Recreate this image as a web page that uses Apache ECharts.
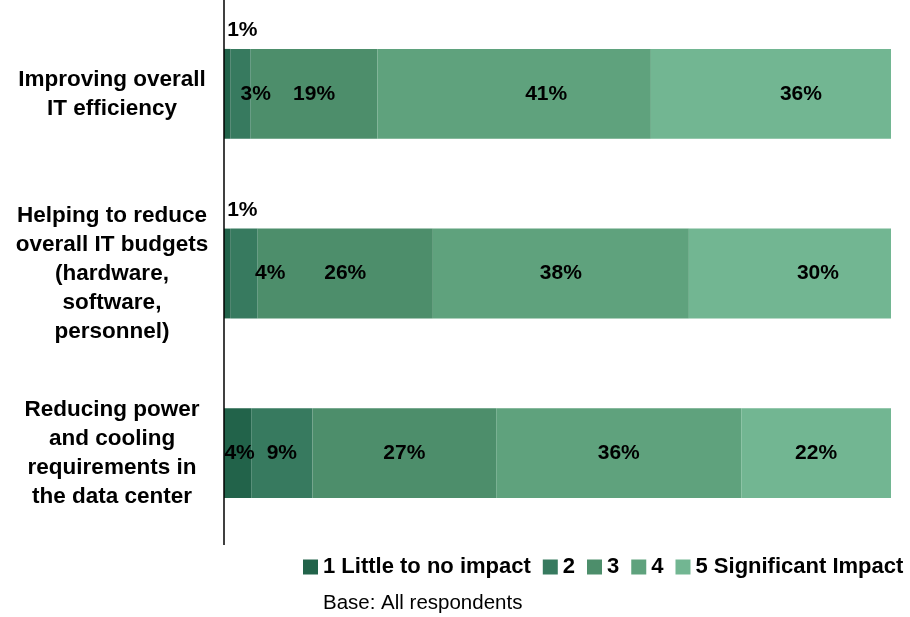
<!DOCTYPE html>
<html>
<head>
<meta charset="utf-8">
<script src="https://cdn.jsdelivr.net/npm/echarts@6/dist/echarts.min.js"></script>
<style>html,body{margin:0;padding:0;background:#fff}#c{width:910px;height:617px}</style>
</head>
<body>
<div id="c"></div>
<script>
var categories = [
  "Improving overall\nIT efficiency",
  "Helping to reduce\noverall IT budgets\n(hardware,\nsoftware,\npersonnel)",
  "Reducing power\nand cooling\nrequirements in\nthe data center"
];
var seriesNames = ["1 Little to no impact", "2", "3", "4", "5 Significant Impact"];
var impact1 = [1, 1, 4];
var impact2 = [3, 4, 9];
var impact3 = [19, 26, 27];
var impact4 = [41, 38, 36];
var impact5 = [36, 30, 22];
var footnote = "Base: All respondents";

var colors = ["#22634a", "#377a5f", "#4d8e6b", "#5fa27d", "#72b692"];
var allSeries = [impact1, impact2, impact3, impact4, impact5];
var totals = categories.map(function (c, i) {
  return allSeries.reduce(function (s, arr) { return s + arr[i]; }, 0);
});
// label horizontal nudges (style only), keyed "category-series"
var labelDx = { "0-1": 15, "0-3": 32, "0-4": 30, "1-1": 26, "1-4": 28, "2-0": 2 };
var FONT = "Liberation Sans, Arial, sans-serif";

var series = allSeries.map(function (arr, si) {
  return {
    name: seriesNames[si],
    type: "bar",
    stack: "total",
    barWidth: "50%",
    itemStyle: { color: colors[si] },
    data: arr.map(function (v, ci) {
      var item = { value: v / totals[ci] * 100, raw: v };
      var lab = {
        show: true,
        formatter: v + "%",
        color: "#000",
        fontWeight: "bold",
        fontSize: 21,
        fontFamily: FONT
      };
      if (v <= 1) {
        lab.position = "top";
        lab.distance = 8;
        lab.offset = [15, 0];
      } else {
        lab.position = "inside";
        lab.offset = [labelDx[ci + "-" + si] || 0, 0];
      }
      item.label = lab;
      return item;
    })
  };
});

var chart = echarts.init(document.getElementById("c"), null, { renderer: "canvas" });
chart.setOption({
  animation: false,
  backgroundColor: "#fff",
  grid: { left: 224, right: 19, top: 4, bottom: 74, containLabel: false },
  xAxis: {
    type: "value", min: 0, max: 100,
    show: false
  },
  yAxis: {
    type: "category",
    data: categories,
    inverse: true,
    axisLine: { show: false },
    axisTick: { show: false },
    splitLine: { show: false },
    axisLabel: {
      margin: 112,
      align: "center",
      color: "#000",
      fontWeight: "bold",
      fontSize: 22.5,
      lineHeight: 29,
      fontFamily: FONT
    }
  },
  legend: {
    data: seriesNames,
    left: 298,
    top: 551,
    icon: "rect",
    itemWidth: 15,
    itemHeight: 15,
    itemGap: 12,
    textStyle: {
      color: "#000",
      fontWeight: "bold",
      fontSize: 22,
      fontFamily: FONT
    }
  },
  graphic: [{
    type: "line",
    shape: { x1: 224, y1: 0, x2: 224, y2: 545 },
    style: { stroke: "#000", lineWidth: 1.5 },
    z: 10
  }, {
    type: "text",
    left: 323,
    top: 593,
    style: {
      text: footnote,
      fill: "#000",
      fontSize: 20.5,
      fontFamily: FONT
    }
  }],
  series: series
});
</script>
</body>
</html>
